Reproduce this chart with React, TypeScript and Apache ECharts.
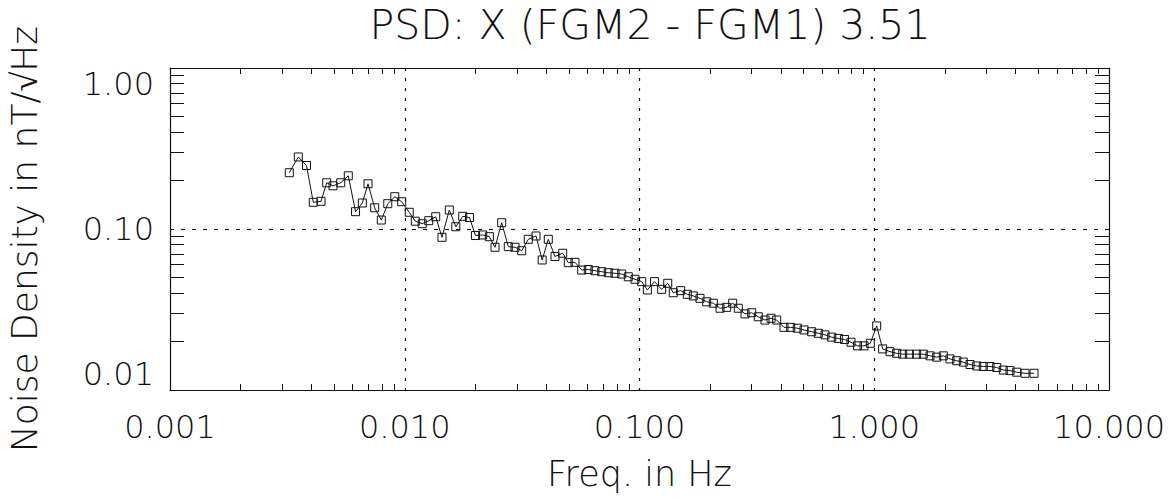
import React, { useEffect, useRef } from "react";
import * as echarts from "echarts";

const titleText = "PSD: X (FGM2 - FGM1) 3.51";
const xName = "Freq. in Hz";
const yName = "Noise Density in nT/\u221AHz";

const freq = [
  0.003223, 0.00352, 0.003815, 0.004077, 0.004398, 0.004651, 0.004948, 0.005336, 0.005748, 0.00617,
  0.006596, 0.006975, 0.007447, 0.007945, 0.008468, 0.009071, 0.009705, 0.01045, 0.01109, 0.01187,
  0.01265, 0.01355, 0.01441, 0.01548, 0.0165, 0.01766, 0.01887, 0.02001, 0.02148, 0.02293,
  0.02424, 0.02588, 0.02761, 0.02949, 0.03149, 0.0336, 0.03624, 0.0385, 0.04088, 0.04365,
  0.04708, 0.04974, 0.05311, 0.05673, 0.06051, 0.06461, 0.06902, 0.07363, 0.07863, 0.084,
  0.0896, 0.09568, 0.1022, 0.108, 0.1158, 0.1243, 0.1319, 0.1393, 0.1498, 0.1598,
  0.1695, 0.181, 0.1933, 0.2063, 0.2203, 0.2352, 0.2495, 0.2636, 0.2815, 0.3006,
  0.3207, 0.3424, 0.3633, 0.3841, 0.4126, 0.4406, 0.4701, 0.502, 0.5414, 0.5777,
  0.6169, 0.6588, 0.703, 0.7469, 0.7962, 0.8484, 0.9044, 0.962, 1.024, 1.086,
  1.167, 1.246, 1.322, 1.411, 1.516, 1.618, 1.728, 1.845, 1.969, 2.102,
  2.245, 2.395, 2.558, 2.732, 2.914, 3.112, 3.324, 3.545, 3.787, 4.045,
  4.387, 4.792,
];

const density = [
  0.2237, 0.2801, 0.248, 0.1465, 0.1486, 0.1936, 0.1855, 0.1936, 0.214, 0.1281,
  0.145, 0.1909, 0.1354, 0.1137, 0.1436, 0.1587, 0.1477, 0.127, 0.1118, 0.1079,
  0.1126, 0.1192, 0.0888, 0.1312, 0.1033, 0.1199, 0.1179, 0.0911, 0.0918, 0.0896,
  0.077, 0.1094, 0.0777, 0.077, 0.0733, 0.0863, 0.0905, 0.0642, 0.0863, 0.0675,
  0.0707, 0.0618, 0.0621, 0.0556, 0.056, 0.0551, 0.0543, 0.0535, 0.0531, 0.0525,
  0.0505, 0.0487, 0.0471, 0.0418, 0.0471, 0.0422, 0.046, 0.0402, 0.0414, 0.0393,
  0.0384, 0.0371, 0.0353, 0.0346, 0.0322, 0.0326, 0.0346, 0.0322, 0.0297, 0.0302,
  0.0285, 0.0272, 0.0279, 0.0272, 0.0245, 0.0245, 0.0242, 0.0236, 0.023, 0.0225,
  0.022, 0.0213, 0.0209, 0.0206, 0.0198, 0.0188, 0.0188, 0.0195, 0.025, 0.018,
  0.0173, 0.0169, 0.0167, 0.0167, 0.0167, 0.0167, 0.0163, 0.016, 0.0163, 0.0156,
  0.0152, 0.0149, 0.0144, 0.0141, 0.014, 0.014, 0.0138, 0.0133, 0.0132, 0.0129,
  0.0127, 0.0127,
];

const xMinorTicks = [
  0.002, 0.003, 0.004, 0.005, 0.006, 0.007, 0.008, 0.009,
  0.02, 0.03, 0.04, 0.05, 0.06, 0.07, 0.08, 0.09,
  0.2, 0.3, 0.4, 0.5, 0.6, 0.7, 0.8, 0.9,
  2, 3, 4, 5, 6, 7, 8, 9,
];
const yMinorTicks = [
  0.02, 0.03, 0.04, 0.05, 0.06, 0.07, 0.08, 0.09,
  0.2, 0.3, 0.4, 0.5, 0.6, 0.7, 0.8, 0.9,
];

const X_MIN = 0.001;
const X_MAX = 10;
const Y_MIN = 0.01;
const Y_MAX = 1;

const FONT = "DejaVu Sans";
const INK = "#111";
const WEIGHT = 200;

export default function App() {
  const ref = useRef<HTMLDivElement>(null);

  useEffect(() => {
    if (!ref.current) return;
    const chart = echarts.init(ref.current, null, { renderer: "svg" });

    const minorX = (position: "bottom" | "top", showLine: boolean) => ({
      type: "log",
      logBase: 10,
      min: X_MIN,
      max: X_MAX,
      position,
      gridIndex: 0,
      axisLine: { show: showLine, lineStyle: { color: INK, width: 1.2 } },
      axisLabel: { show: false },
      splitLine: { show: false },
      axisTick: {
        show: true,
        inside: true,
        length: 6,
        customValues: xMinorTicks,
        lineStyle: { color: INK, width: 1 },
      },
    });

    const minorY = (position: "left" | "right", showLine: boolean) => ({
      type: "log",
      logBase: 10,
      min: Y_MIN,
      max: Y_MAX,
      position,
      gridIndex: 0,
      axisLine: { show: showLine, lineStyle: { color: INK, width: 1.2 } },
      axisLabel: { show: false },
      splitLine: { show: false },
      axisTick: {
        show: true,
        inside: true,
        length: 14,
        customValues: yMinorTicks,
        lineStyle: { color: INK, width: 1 },
      },
    });

    chart.setOption({
      animation: false,
      backgroundColor: "#fff",
      title: {
        text: titleText,
        left: 645,
        top: -1,
        textAlign: "center",
        textStyle: {
          fontFamily: FONT,
          fontSize: 41,
          fontWeight: WEIGHT,
          color: INK,
        },
      },
      grid: {
        left: 170,
        right: 66,
        top: 68,
        bottom: 114,
        outerBoundsMode: "none",
      },
      xAxis: [
        {
          type: "log",
          logBase: 10,
          min: X_MIN,
          max: X_MAX,
          position: "bottom",
          name: xName,
          nameLocation: "middle",
          nameGap: 66,
          nameTextStyle: { fontFamily: FONT, fontSize: 35, fontWeight: WEIGHT, color: INK },
          axisLine: { show: true, lineStyle: { color: INK, width: 1.2 } },
          axisTick: { show: false },
          axisLabel: {
            show: true,
            margin: 21,
            fontFamily: FONT,
            fontSize: 32,
            fontWeight: WEIGHT,
            color: INK,
            formatter: (v: number) => v.toFixed(3),
          },
          splitLine: {
            show: true,
            showMinLine: false,
            showMaxLine: false,
            lineStyle: { color: INK, width: 1.2, type: [3, 7] },
          },
        },
        minorX("bottom", false),
        minorX("top", true),
      ],
      yAxis: [
        {
          type: "log",
          logBase: 10,
          min: Y_MIN,
          max: Y_MAX,
          position: "left",
          name: yName,
          nameLocation: "middle",
          nameRotate: 90,
          nameGap: 128,
          nameTextStyle: {
            fontFamily: FONT,
            fontSize: 36,
            fontWeight: WEIGHT,
            color: INK,
            padding: [0, 20, 0, 0],
          },
          axisLine: { show: true, lineStyle: { color: INK, width: 1.2 } },
          axisTick: { show: false },
          axisLabel: {
            show: true,
            margin: 16,
            fontFamily: FONT,
            fontSize: 32,
            fontWeight: WEIGHT,
            color: INK,
            verticalAlignMinLabel: "bottom",
            verticalAlignMaxLabel: "top",
            formatter: (v: number) => v.toFixed(2),
          },
          splitLine: {
            show: true,
            showMinLine: false,
            showMaxLine: false,
            lineStyle: { color: INK, width: 1.2, type: [4, 7] },
          },
        },
        minorY("left", false),
        minorY("right", true),
      ],
      series: [
        {
          type: "line",
          xAxisIndex: 0,
          yAxisIndex: 0,
          data: freq.map((f, i) => [f, density[i]]),
          symbol: "rect",
          symbolSize: 8,
          showAllSymbol: true,
          lineStyle: { color: INK, width: 1 },
          itemStyle: { color: "rgba(0,0,0,0)", borderColor: INK, borderWidth: 1 },
          silent: true,
        },
      ],
    });

    return () => chart.dispose();
  }, []);

  return (
    <div
      ref={ref}
      style={{ position: "fixed", left: 0, top: 0, width: 1175, height: 504 }}
    />
  );
}
